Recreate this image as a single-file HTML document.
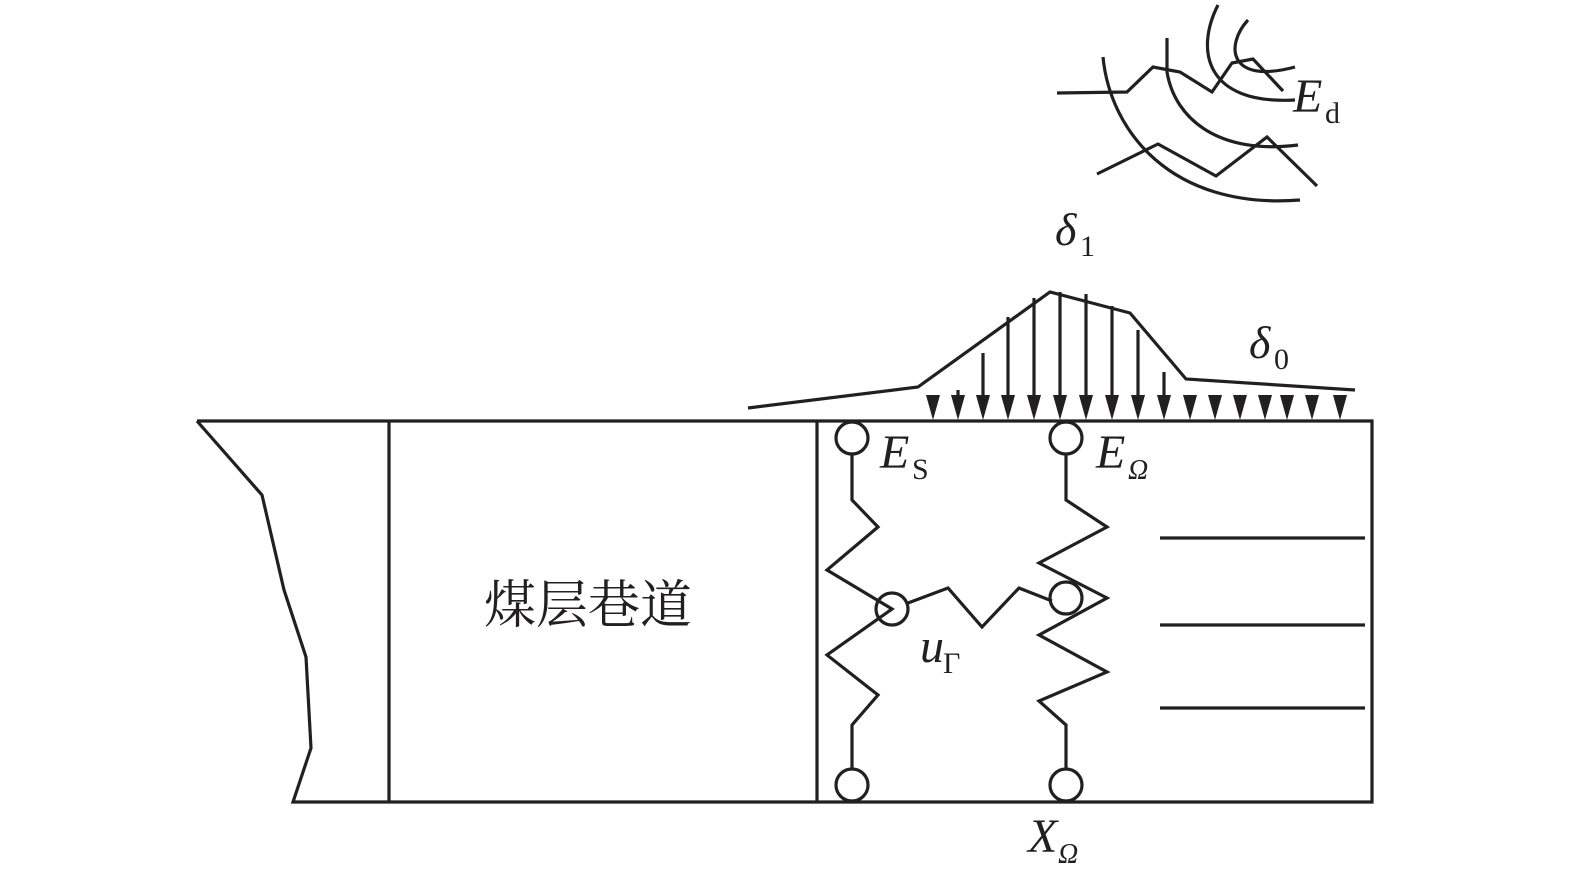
<!DOCTYPE html>
<html><head><meta charset="utf-8"><style>
html,body{margin:0;padding:0;background:#fff}
svg{display:block}
text{font-family:"Liberation Serif","Noto Serif CJK SC",serif;fill:#231f20}
</style></head><body>
<svg width="1575" height="890" viewBox="0 0 1575 890" xmlns="http://www.w3.org/2000/svg">
<g fill="none" stroke="#231f20" stroke-width="3.2" stroke-linejoin="miter">
<polyline points="197,421 1372,421 1372,802 293,802 311,748 306,657 284,590 262,495 197,421"/>
<line x1="389" y1="421" x2="389" y2="802"/>
<line x1="817" y1="421" x2="817" y2="802"/>
<line x1="1160" y1="538" x2="1365" y2="538"/>
<line x1="1160" y1="625" x2="1365" y2="625"/>
<line x1="1160" y1="708" x2="1365" y2="708"/>
<polyline points="748,408 918,387 1050,292 1130,313 1186,379 1355,390"/>
<line x1="958" y1="390" x2="958" y2="405"/>
<line x1="983" y1="353" x2="983" y2="405"/>
<line x1="1008" y1="317" x2="1008" y2="405"/>
<line x1="1034" y1="298" x2="1034" y2="405"/>
<line x1="1060" y1="292" x2="1060" y2="405"/>
<line x1="1086" y1="294" x2="1086" y2="405"/>
<line x1="1112" y1="306" x2="1112" y2="405"/>
<line x1="1138" y1="330" x2="1138" y2="405"/>
<line x1="1164" y1="372" x2="1164" y2="405"/>
<polyline points="852,453 852,500 878,527 827,570 892,609 827,655 878,695 852,725 852,769"/>
<polyline points="1066,453 1066,500 1107,527 1039,563 1107,598 1039,635 1107,672 1039,701 1066,725 1066,769"/>
<polyline points="908,603 948,588 982,627 1019,588 1052,601"/>
<circle cx="852" cy="438" r="16"/>
<circle cx="1066" cy="438" r="16"/>
<circle cx="892" cy="609" r="16"/>
<circle cx="1066" cy="598" r="16"/>
<circle cx="852" cy="785" r="16"/>
<circle cx="1066" cy="785" r="16"/>
<polyline points="1057,93 1127,92 1153,67 1180,72 1212,92 1232,63 1253,59 1283,91"/>
<polyline points="1097,174 1158,144 1216,176 1267,137 1317,186"/>
<path d="M1103,57 C1110,130 1170,210 1300,200"/>
<path d="M1167,38 L1167,72 C1175,120 1220,155 1298,145"/>
<path d="M1218,5 C1195,50 1205,105 1295,100"/>
<path d="M1248,20 C1225,45 1228,85 1295,67"/>
</g>
<g fill="#231f20">
<polygon points="926,395 940,395 933,420"/>
<polygon points="951,395 965,395 958,420"/>
<polygon points="976,395 990,395 983,420"/>
<polygon points="1001,395 1015,395 1008,420"/>
<polygon points="1027,395 1041,395 1034,420"/>
<polygon points="1053,395 1067,395 1060,420"/>
<polygon points="1079,395 1093,395 1086,420"/>
<polygon points="1105,395 1119,395 1112,420"/>
<polygon points="1131,395 1145,395 1138,420"/>
<polygon points="1157,395 1171,395 1164,420"/>
<polygon points="1183,395 1197,395 1190,420"/>
<polygon points="1208,395 1222,395 1215,420"/>
<polygon points="1233,395 1247,395 1240,420"/>
<polygon points="1258,395 1272,395 1265,420"/>
<polygon points="1280,395 1294,395 1287,420"/>
<polygon points="1305,395 1319,395 1312,420"/>
<polygon points="1333,395 1347,395 1340,420"/>
</g>
<text x="484" y="623" font-size="52" style="font-family:'Noto Serif CJK SC','Noto Sans CJK SC',serif">煤层巷道</text>
<text x="1055" y="245" font-size="46" font-style="italic">δ</text><text x="1080" y="256" font-size="30">1</text>
<text x="1249" y="358" font-size="46" font-style="italic">δ</text><text x="1274" y="369" font-size="30">0</text>
<text x="1293" y="112" font-size="48" font-style="italic">E</text><text x="1325" y="123" font-size="30">d</text>
<text x="880" y="468" font-size="48" font-style="italic">E</text><text x="912" y="479" font-size="30">S</text>
<text x="1096" y="468" font-size="48" font-style="italic">E</text><text x="1128" y="479" font-size="28" font-style="italic">Ω</text>
<text x="920" y="662" font-size="48" font-style="italic">u</text><text x="943" y="673" font-size="30">Γ</text>
<text x="1028" y="852" font-size="48" font-style="italic">X</text><text x="1058" y="863" font-size="28" font-style="italic">Ω</text>
</svg>
</body></html>
